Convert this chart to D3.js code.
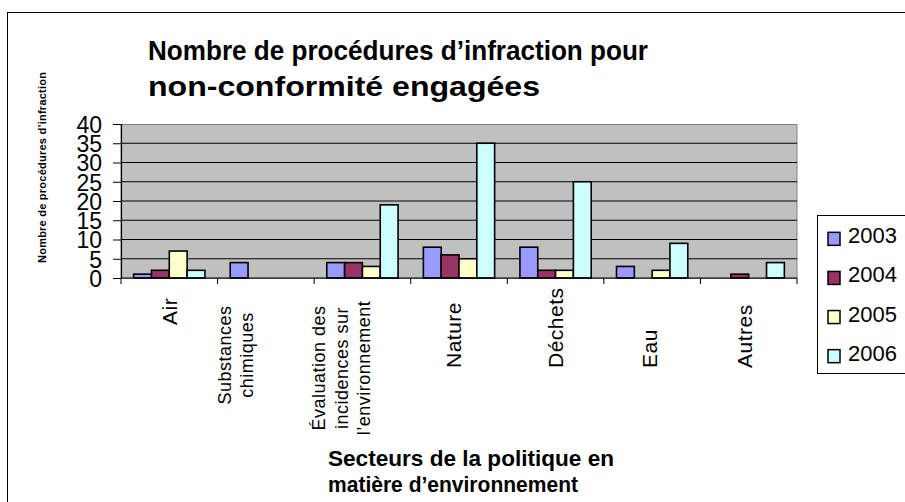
<!DOCTYPE html>
<html lang="fr">
<head>
<meta charset="UTF-8">
<title>Procédures d'infraction</title>
<script src="https://cdn.jsdelivr.net/npm/d3@7"></script>
<style>
  body { margin: 0; background: #fff; }
  svg text { font-family: "Liberation Sans", Arial, sans-serif; fill: #000; }
</style>
</head>
<body>
<div id="container"></div>
<script>
// data
let categories = ["Air", "Substances chimiques", "Évaluation des incidences sur l’environnement",
                  "Nature", "Déchets", "Eau", "Autres"];
let categoryLines = [["Air"], ["Substances", "chimiques"], ["Évaluation des", "incidences sur", "l’environnement"],
                     ["Nature"], ["Déchets"], ["Eau"], ["Autres"]];
let years = ["2003", "2004", "2005", "2006"];
let v2003 = [1, 4, 4, 8, 8, 3, 0];
let v2004 = [2, 0, 4, 6, 2, 0, 1];
let v2005 = [7, 0, 3, 5, 2, 2, 0];
let v2006 = [2, 0, 19, 35, 25, 9, 4];
let yTicks = [0, 5, 10, 15, 20, 25, 30, 35, 40];

let series = [v2003, v2004, v2005, v2006];
let colors = ["#9999ff", "#993366", "#ffffcc", "#ccffff"];

// label placement (rotated labels, as laid out in the original)
let labelLayout = [
  {dx: 0, y: 325, anchor: "start", size: 21},
  {dx: -30, y: 355, anchor: "middle", size: 18},
  {dx: -21, y: 368, anchor: "middle", size: 18},
  {dx: -5, y: 368, anchor: "start", size: 21},
  {dx: 0, y: 368, anchor: "start", size: 21},
  {dx: -3, y: 368, anchor: "start", size: 21},
  {dx: -4, y: 368, anchor: "start", size: 21}
];

let W = 905, H = 502;
let plot = {left: 121, right: 797, top: 124, bottom: 278};

let svg = d3.select("#container").append("svg")
    .attr("width", W).attr("height", H);

// chart frame
svg.append("rect")
    .attr("x", 7.5).attr("y", 12.5)
    .attr("width", 1000).attr("height", 600)
    .attr("fill", "#fff").attr("stroke", "#000");

let x0 = d3.scaleBand().domain(categories).range([plot.left, plot.right]);
let x1 = d3.scaleBand().domain(years).range([0, x0.bandwidth()]).paddingOuter(0.71);
let y = d3.scaleLinear().domain([0, 40]).range([plot.bottom, plot.top]);

// plot area
svg.append("rect")
    .attr("x", plot.left).attr("y", plot.top + 0.5)
    .attr("width", plot.right - plot.left).attr("height", plot.bottom - plot.top)
    .attr("fill", "#c0c0c0").attr("stroke", "#808080");

// gridlines
svg.append("g").selectAll("line")
    .data(yTicks.filter(d => d > 0 && d < 40))
    .join("line")
    .attr("x1", plot.left).attr("x2", plot.right)
    .attr("y1", d => y(d)).attr("y2", d => y(d))
    .attr("stroke", "#000").attr("stroke-width", 1);

// bars
let groups = svg.append("g").selectAll("g")
    .data(categories)
    .join("g")
    .attr("transform", d => "translate(" + x0(d) + ",0)");

groups.selectAll("rect")
    .data((c, i) => years.map((yr, j) => ({year: yr, value: series[j][i], color: colors[j]})))
    .join("rect")
    .filter(d => d.value > 0)
    .attr("x", d => x1(d.year))
    .attr("width", x1.bandwidth())
    .attr("y", d => y(d.value))
    .attr("height", d => y(0) - y(d.value))
    .attr("fill", d => d.color)
    .attr("stroke", "#000")
    .attr("stroke-width", 1.6);

// y axis
let yAxis = svg.append("g")
    .attr("transform", "translate(" + plot.left + ",0)")
    .call(d3.axisLeft(y).tickValues(yTicks).tickSize(8).tickPadding(11));
yAxis.select(".domain").attr("stroke", "#000").attr("stroke-width", 1.2);
yAxis.selectAll(".tick line").attr("stroke", "#000");
yAxis.selectAll("text")
    .attr("font-size", 23)
    .attr("font-family", "Liberation Sans, Arial, sans-serif")
    .attr("dy", "0.36em");

// x axis (ticks between categories)
let xAxisG = svg.append("g");
xAxisG.append("line")
    .attr("x1", plot.left).attr("x2", plot.right)
    .attr("y1", plot.bottom).attr("y2", plot.bottom)
    .attr("stroke", "#000").attr("stroke-width", 1.2);
xAxisG.selectAll("line.tk")
    .data(categories.concat(["end"]))
    .join("line")
    .attr("class", "tk")
    .attr("x1", (d, i) => plot.left + i * x0.step())
    .attr("x2", (d, i) => plot.left + i * x0.step())
    .attr("y1", plot.bottom).attr("y2", plot.bottom + 6)
    .attr("stroke", "#000");

// category labels, rotated
categories.forEach((c, i) => {
  let lay = labelLayout[i];
  let lines = categoryLines[i];
  let cx = x0(c) + x0.bandwidth() / 2 + lay.dx;
  let lh = lay.size * 1.25;
  let g = svg.append("g")
      .attr("transform", "translate(" + cx + "," + lay.y + ") rotate(-90)");
  lines.forEach((ln, k) => {
    g.append("text")
        .attr("x", 0)
        .attr("y", (k - (lines.length - 1) / 2) * lh)
        .attr("dy", "0.35em")
        .attr("text-anchor", lay.anchor)
        .attr("font-size", lay.size)
        .attr("letter-spacing", 0.5)
        .text(ln);
  });
});

// title
let title = svg.append("g")
    .attr("font-size", 28).attr("font-weight", "bold");
title.append("text").attr("x", 148).attr("y", 60)
    .attr("textLength", 500).attr("lengthAdjust", "spacingAndGlyphs")
    .text("Nombre de procédures d’infraction pour");
title.append("text").attr("x", 148).attr("y", 96)
    .attr("textLength", 392).attr("lengthAdjust", "spacingAndGlyphs")
    .text("non-conformité engagées");

// x axis title
let xt = svg.append("g")
    .attr("font-size", 22).attr("font-weight", "bold");
xt.append("text").attr("x", 328).attr("y", 466)
    .attr("textLength", 286).attr("lengthAdjust", "spacingAndGlyphs")
    .text("Secteurs de la politique en");
xt.append("text").attr("x", 328).attr("y", 492)
    .attr("textLength", 250).attr("lengthAdjust", "spacingAndGlyphs")
    .text("matière d’environnement");

// y axis title
svg.append("text")
    .attr("transform", "translate(46,263) rotate(-90)")
    .attr("font-size", 11).attr("font-weight", "bold")
    .attr("textLength", 191).attr("lengthAdjust", "spacing")
    .text("Nombre de procédures d’infraction");

// legend
let legend = svg.append("g");
legend.append("rect")
    .attr("x", 817.5).attr("y", 215.5)
    .attr("width", 200).attr("height", 158)
    .attr("fill", "#fff").attr("stroke", "#000");
let rowY = d3.scaleBand().domain(years).range([215, 373]).paddingOuter(0.02);
years.forEach((yr, j) => {
  let cy = rowY(yr) + rowY.bandwidth() / 2;
  legend.append("rect")
      .attr("x", 828).attr("y", cy - 3)
      .attr("width", 12).attr("height", 13)
      .attr("fill", colors[j]).attr("stroke", "#000").attr("stroke-width", 1.5);
  legend.append("text")
      .attr("x", 848).attr("y", cy + 8)
      .attr("font-size", 22)
      .text(yr);
});
</script>
</body>
</html>
